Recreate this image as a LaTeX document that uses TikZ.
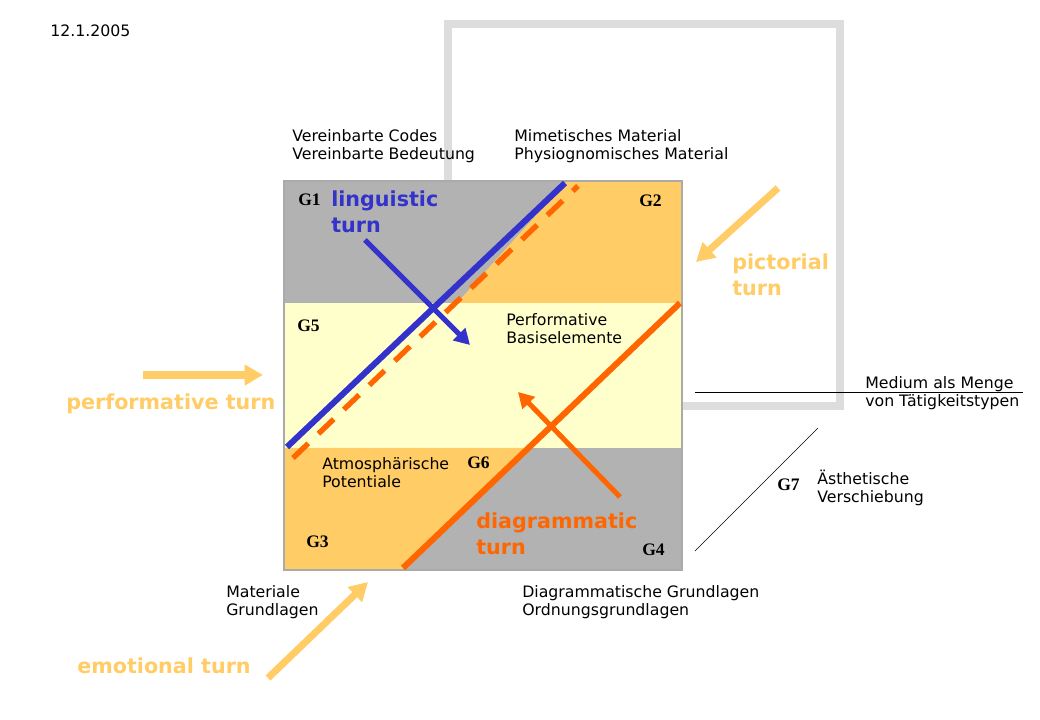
\documentclass[tikz,border=0pt]{standalone}
\usepackage{fontspec}
\setmainfont{DejaVu Sans}
\newfontfamily\gserif{Liberation Serif}
\usetikzlibrary{arrows.meta}
\definecolor{greyfield}{HTML}{B2B2B2}
\definecolor{orangefield}{HTML}{FFCC66}
\definecolor{creamfield}{HTML}{FFFFCC}
\definecolor{framegrey}{HTML}{DDDDDD}
\definecolor{squareedge}{HTML}{AAAAAA}
\definecolor{linguistic}{HTML}{3333CC}
\definecolor{diagram}{HTML}{FF6600}
\definecolor{turnyellow}{HTML}{FFCC66}

\begin{document}
\begin{tikzpicture}[
    x=0.025cm, y=-0.025cm,
    txt/.style={anchor=base west, align=left, inner sep=0pt, font=\fontsize{11.2}{13.5}\selectfont},
    glabel/.style={anchor=base west, inner sep=0pt, font=\fontsize{12.5}{14}\selectfont\gserif\bfseries},
    turn/.style={anchor=base west, align=left, inner sep=0pt, font=\fontsize{14.7}{18.5}\selectfont\bfseries},
    yarrow/.style={-{Triangle[length=13pt, width=14pt]}, line width=5pt, turnyellow},
    inarrow/.style={-{Triangle[length=11pt, width=12pt]}, line width=3.6pt},
    diag/.style={line width=4.3pt}
]
\useasboundingbox (0,0) rectangle (1040,720);

% Background frame (behind the square)
\draw[framegrey, line width=5.7pt] (448,24) rectangle (840,406);

% Square with its three bands
\fill[greyfield] (284,181) rectangle (682,303);
\fill[orangefield] (567,181) -- (682,181) -- (682,303) -- (457,303) -- cycle;
\fill[creamfield] (284,303) rectangle (682,448);
\fill[greyfield] (284,448) rectangle (682,570);
\fill[orangefield] (284,448) -- (528,448) -- (403,570) -- (284,570) -- cycle;
\draw[squareedge, line width=2pt] (284,181) rectangle (682,570);

% Diagonals
\coordinate (blueLo) at (287,447);
\coordinate (blueHi) at (565,183);
\coordinate (dashLo) at (293,458);
\coordinate (dashHi) at (578,186);
\coordinate (orLo) at (403,568);
\coordinate (orHi) at (680,303);
\draw[diag, linguistic] (blueLo) -- (blueHi);
\draw[diag, diagram, line width=3.8pt, dash pattern=on 15pt off 10pt] (dashLo) -- (dashHi);
\draw[diag, diagram] (orLo) -- (orHi);

% Arrows inside the square
\coordinate (lingTail) at (365,240);
\coordinate (lingTip) at (470,345);
\coordinate (diaTail) at (620,497);
\coordinate (diaTip) at (518,392);
\draw[inarrow, linguistic] (lingTail) -- (lingTip);
\draw[inarrow, diagram] (diaTail) -- (diaTip);

% Yellow turn arrows from outside
\coordinate (perfTail) at (143,375);
\coordinate (perfTip) at (263,375);
\coordinate (pictTail) at (778,188);
\coordinate (pictTip) at (696,262);
\coordinate (emoTail) at (268,678);
\coordinate (emoTip) at (368,582);
\draw[yarrow] (perfTail) -- (perfTip);
\draw[yarrow] (pictTail) -- (pictTip);
\draw[yarrow] (emoTail) -- (emoTip);

% Thin lines on the right
\coordinate (medL) at (695,392);
\coordinate (medR) at (1023,392);
\coordinate (aesLo) at (695,551);
\coordinate (aesHi) at (818,428);
\draw[line width=0.6pt] (medL) -- (medR);
\draw[line width=0.4pt] (aesLo) -- (aesHi);

% Field labels
\node[glabel] (G1) at (298,206) {G1};
\node[glabel] (G2) at (639,207) {G2};
\node[glabel] (G5) at (297,332) {G5};
\node[glabel] (G6) at (467,469) {G6};
\node[glabel] (G3) at (306,548) {G3};
\node[glabel] (G4) at (642,556) {G4};
\node[glabel] (G7) at (777,491) {G7};

% Turns (base = last line)
\node[turn, linguistic] (lingturn) at (331,233) {linguistic\\turn};
\node[turn, diagram] (diaturn) at (476,555) {diagrammatic\\turn};
\node[turn, turnyellow] (pictturn) at (732,296) {pictorial\\turn};
\node[turn, turnyellow] (perfturn) at (66,410) {performative turn};
\node[turn, turnyellow] (emoturn) at (77,673) {emotional turn};

% Descriptions (base = last line)
\node[txt] (date) at (50,37) {12.1.2005};
\node[txt] (codes) at (292,160) {Vereinbarte Codes\\Vereinbarte Bedeutung};
\node[txt] (mimetic) at (514,160) {Mimetisches Material\\Physiognomisches Material};
\node[txt] (basis) at (506,344) {Performative\\Basiselemente};
\node[txt] (medium) at (865,407) {Medium als Menge\\von Tätigkeitstypen};
\node[txt] (shift) at (817,503) {Ästhetische\\Verschiebung};
\node[txt] (atmo) at (322,488) {Atmosphärische\\Potentiale};
\node[txt] (material) at (226,616) {Materiale\\Grundlagen};
\node[txt] (order) at (522,616) {Diagrammatische Grundlagen\\Ordnungsgrundlagen};

\end{tikzpicture}
\end{document}
